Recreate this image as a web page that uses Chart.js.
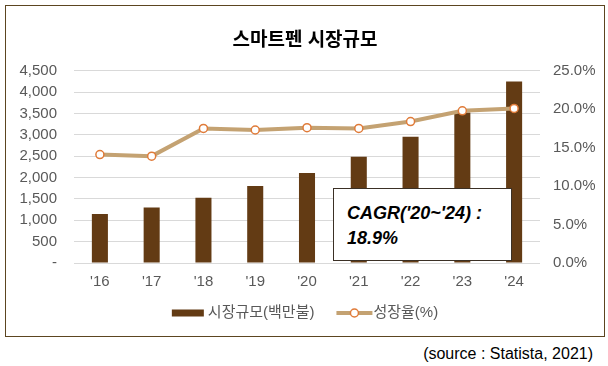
<!DOCTYPE html>
<html>

<head>
    <meta charset="utf-8">
    <title>스마트펜 시장규모</title>
    <script src="https://cdn.jsdelivr.net/npm/chart.js"></script>
    <style>
        body { margin: 0; background: #fff; }
        #frame {
            position: absolute; left: 5px; top: 5px;
            width: 598px; height: 330px;
            border: 1px solid #5c4520;
        }
        #cagr {
            position: absolute; left: 333px; top: 188px;
            width: 179px; height: 73px;
            border: 1px solid #3b3025; background: #fff;
            font: italic bold 18px 'Liberation Sans', Arial, sans-serif;
            color: #000; line-height: 25px;
            padding: 12px 0 0 13px; box-sizing: border-box;
        }
        #source {
            position: absolute; right: 15px; top: 345px;
            font: 16px 'Liberation Sans', Arial, sans-serif; color: #000;
        }
    </style>
</head>

<body>
    <div id="frame"><canvas id="chart"></canvas></div>
    <div id="cagr">CAGR('20~'24) :<br>18.9%</div>
    <div id="source">(source : Statista, 2021)</div>

    <script>
        // data
        const years = ["'16", "'17", "'18", "'19", "'20", "'21", "'22", "'23", "'24"];
        const marketSize = [1150, 1300, 1530, 1805, 2110, 2490, 2955, 3525, 4250];
        const growthRate = [14.1, 13.9, 17.5, 17.3, 17.6, 17.5, 18.4, 19.8, 20.1];

        const FONT = "'Liberation Sans', 'Noto Sans CJK KR', sans-serif";
        const GRAY = '#595959';

        // legend drawn under the axis (bar box + line with marker)
        const legendPlugin = {
            id: 'customLegend',
            afterDraw(chart) {
                const ctx = chart.ctx;
                const y = 307;
                const ds = chart.data.datasets;
                ctx.save();
                ctx.font = '15px ' + FONT;
                ctx.textBaseline = 'middle';
                const w0 = 32 + 4 + ctx.measureText(ds[0].label).width;
                const w1 = 36 + 1 + ctx.measureText(ds[1].label).width;
                const gap = 22;
                let x = chart.width / 2 - (w0 + gap + w1) / 2;

                ctx.fillStyle = ds[0].backgroundColor;
                ctx.fillRect(x, y - 3.5, 32, 7);
                ctx.fillStyle = GRAY;
                ctx.fillText(ds[0].label, x + 36, y);

                x += w0 + gap;
                ctx.strokeStyle = ds[1].borderColor;
                ctx.lineWidth = 4;
                ctx.beginPath();
                ctx.moveTo(x, y);
                ctx.lineTo(x + 36, y);
                ctx.stroke();
                ctx.beginPath();
                ctx.arc(x + 18, y, 4, 0, Math.PI * 2);
                ctx.fillStyle = '#fff';
                ctx.fill();
                ctx.lineWidth = 1.5;
                ctx.strokeStyle = ds[1].pointBorderColor;
                ctx.stroke();
                ctx.fillStyle = GRAY;
                ctx.fillText(ds[1].label, x + 37, y);
                ctx.restore();
            }
        };

        const ctx = document.getElementById('chart').getContext('2d');
        new Chart(ctx, {
            type: 'bar',
            data: {
                labels: years,
                datasets: [{
                    type: 'bar',
                    label: '시장규모(백만불)',
                    data: marketSize,
                    backgroundColor: '#633b14',
                    yAxisID: 'y',
                    barPercentage: 0.31,
                    categoryPercentage: 1,
                    order: 2
                }, {
                    type: 'line',
                    label: '성장율(%)',
                    data: growthRate,
                    borderColor: '#c4a272',
                    borderWidth: 4,
                    pointRadius: 4,
                    pointBorderWidth: 1.5,
                    pointBackgroundColor: '#fff',
                    pointBorderColor: '#e07b39',
                    yAxisID: 'y1',
                    order: 1
                }]
            },
            options: {
                responsive: true,
                maintainAspectRatio: false,
                animation: false,
                layout: { padding: { left: 0, right: 0, top: 0, bottom: 35 } },
                plugins: {
                    legend: { display: false },
                    tooltip: { enabled: false },
                    title: {
                        display: true,
                        text: '스마트펜 시장규모',
                        color: '#000',
                        font: { family: FONT, size: 19, weight: 'bold' },
                        padding: { top: 23, bottom: 19 }
                    }
                },
                scales: {
                    x: {
                        grid: { display: false, drawTicks: false },
                        border: { display: false },
                        ticks: { color: GRAY, font: { family: FONT, size: 15 }, padding: 10 }
                    },
                    y: {
                        position: 'left',
                        min: 0, max: 4500,
                        afterFit: s => { s.width = 68; },
                        grid: { color: '#d9d9d9', drawTicks: false },
                        border: { display: false },
                        ticks: {
                            stepSize: 500,
                            autoSkip: false,
                            padding: 17,
                            color: GRAY,
                            font: { family: FONT, size: 15 },
                            callback: v => v === 0 ? '-' : v.toLocaleString('en-US')
                        }
                    },
                    y1: {
                        position: 'right',
                        min: 0, max: 25,
                        afterFit: s => { s.width = 64; },
                        grid: { drawOnChartArea: false, drawTicks: false },
                        border: { display: false },
                        ticks: {
                            stepSize: 5,
                            autoSkip: false,
                            padding: 13,
                            color: GRAY,
                            font: { family: FONT, size: 15 },
                            callback: v => v.toFixed(1) + '%'
                        }
                    }
                }
            },
            plugins: [legendPlugin]
        });
    </script>
</body>

</html>
